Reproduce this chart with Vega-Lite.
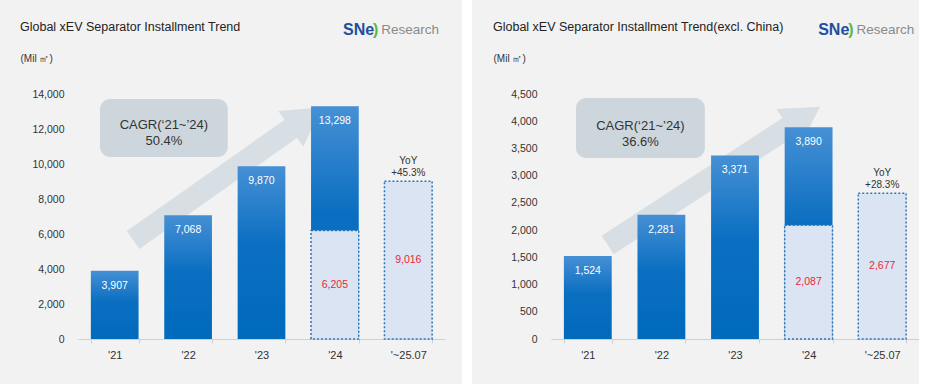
{
  "$schema": "https://vega.github.io/schema/vega-lite/v6.json",
  "background": "#f2f2f2",
  "padding": {"left": 20, "top": 0, "right": 0, "bottom": 0},
  "spacing": 20,
  "datasets": {
    "global": [
      {"cat": "'21", "y": 3907, "kind": "actual"},
      {"cat": "'22", "y": 7068, "kind": "actual"},
      {"cat": "'23", "y": 9870, "kind": "actual"},
      {"cat": "'24", "y": 13298, "kind": "actual"},
      {"cat": "'24", "y": 6205, "kind": "partial"},
      {"cat": "'~25.07", "y": 9016, "kind": "partial", "yoy": "YoY\n+45.3%"}
    ],
    "exchina": [
      {"cat": "'21", "y": 1524, "kind": "actual"},
      {"cat": "'22", "y": 2281, "kind": "actual"},
      {"cat": "'23", "y": 3371, "kind": "actual"},
      {"cat": "'24", "y": 3890, "kind": "actual"},
      {"cat": "'24", "y": 2087, "kind": "partial"},
      {"cat": "'~25.07", "y": 2677, "kind": "partial", "yoy": "YoY\n+28.3%"}
    ],
    "globalNotes": [
      {"role": "arrow", "x": 0.75, "y": 5657, "x2": 3.11, "y2": 12629},
      {"role": "box", "x": 0.30, "y": 13714, "x2": 2.04, "y2": 10400},
      {"role": "cagr", "x": 1.17, "y": 12229, "label": "CAGR(‘21~’24)\n50.4%"},
      {"role": "sn", "x": 3.61, "y": 17657, "label": "SNe"},
      {"role": "arc", "x": 4.02, "y": 17657, "label": ")"},
      {"role": "research", "x": 4.13, "y": 17657, "label": "Research"},
      {"role": "frame", "x": 5.232, "x2": 5.368, "y": -2571.4, "y2": 19371.4}
    ],
    "exchinaNotes": [
      {"role": "arrow", "x": 0.77, "y": 1727, "x2": 3.44, "y2": 4078},
      {"role": "box", "x": 0.34, "y": 4427, "x2": 2.09, "y2": 3324},
      {"role": "cagr", "x": 1.215, "y": 3912, "label": "CAGR(‘21~’24)\n36.6%"},
      {"role": "sn", "x": 3.63, "y": 5676, "label": "SNe"},
      {"role": "arc", "x": 4.04, "y": 5676, "label": ")"},
      {"role": "research", "x": 4.15, "y": 5676, "label": "Research"},
      {"role": "frame", "x": 0, "x2": 0.01, "y": -826.5, "y2": 6226.5}
    ]
  },
  "hconcat": [
    {
      "width": 367,
      "height": 245,
      "title": {"text": "Global xEV Separator Installment Trend"},
      "layer": [
        {
          "data": {"name": "globalNotes"},
          "encoding": {
            "x": {"field": "x", "type": "quantitative", "scale": {"domain": [0, 5], "nice": false, "zero": false}, "axis": null},
            "y": {"field": "y", "type": "quantitative", "scale": {"domain": [0, 14000], "nice": false}, "axis": null}
          },
          "layer": [
            {"transform": [{"filter": "datum.role === 'frame'"}], "mark": {"type": "rect", "color": "#ffffff"}, "encoding": {"x2": {"field": "x2"}, "y2": {"field": "y2"}}},
            {"transform": [{"filter": "datum.role === 'arrow'"}], "mark": {"type": "rule", "strokeWidth": 22, "color": "#d8dfe4", "strokeCap": "butt"}, "encoding": {"x2": {"field": "x2"}, "y2": {"field": "y2"}}},
            {"transform": [{"filter": "datum.role === 'arrow'"}], "mark": {"type": "point", "shape": "triangle-up", "filled": true, "size": 1900, "angle": 55, "color": "#d8dfe4", "opacity": 1}, "encoding": {"x": {"field": "x2", "type": "quantitative"}, "y": {"field": "y2", "type": "quantitative"}}},
            {"transform": [{"filter": "datum.role === 'box'"}], "mark": {"type": "rect", "cornerRadius": 10, "color": "#cdd6dc"}, "encoding": {"x2": {"field": "x2"}, "y2": {"field": "y2"}}},
            {"transform": [{"filter": "datum.role === 'cagr'"}], "mark": {"type": "text", "lineBreak": "\n", "fontSize": 13, "color": "#333333", "lineHeight": 16, "align": "center", "baseline": "middle"}, "encoding": {"text": {"field": "label"}}},
            {"transform": [{"filter": "datum.role === 'sn'"}], "mark": {"type": "text", "fontSize": 16, "fontWeight": "bold", "color": "#1f4e9e", "align": "left", "baseline": "middle"}, "encoding": {"text": {"field": "label"}}},
            {"transform": [{"filter": "datum.role === 'arc'"}], "mark": {"type": "text", "fontSize": 16, "fontWeight": "bold", "color": "#58b947", "align": "left", "baseline": "middle"}, "encoding": {"text": {"field": "label"}}},
            {"transform": [{"filter": "datum.role === 'research'"}], "mark": {"type": "text", "fontSize": 13.5, "color": "#8a8a8a", "align": "left", "baseline": "middle"}, "encoding": {"text": {"field": "label"}}}
          ]
        },
        {
          "data": {"name": "global"},
          "encoding": {
            "x": {"field": "cat", "type": "nominal", "sort": null, "scale": {"domain": ["'21", "'22", "'23", "'24", "'~25.07"], "paddingInner": 0.35, "paddingOuter": 0.175}, "axis": {"orient": "bottom", "title": null, "labelAngle": 0, "labelFontSize": 11, "labelColor": "#333333", "labelPadding": 6, "domainColor": "#d0d0d0", "tickColor": "#d0d0d0", "tickSize": 4, "tickBand": "extent", "grid": false}},
            "y": {"field": "y", "type": "quantitative", "title": "(Mil ㎡)", "scale": {"domain": [0, 14000], "nice": false}, "axis": {"orient": "left", "values": [0, 2000, 4000, 6000, 8000, 10000, 12000, 14000]}}
          },
          "layer": [
            {"transform": [{"filter": "datum.kind === 'actual'"}], "mark": {"type": "bar", "color": {"gradient": "linear", "x1": 0, "y1": 0, "x2": 0, "y2": 1, "stops": [{"offset": 0, "color": "#4690d5"}, {"offset": 0.45, "color": "#0b6fc1"}, {"offset": 1, "color": "#006abd"}]}}},
            {"transform": [{"filter": "datum.kind === 'partial'"}], "mark": {"type": "bar", "fill": "#dbe4f3", "stroke": "#2e75b6", "strokeWidth": 1.5, "strokeDash": [2, 2]}},
            {"transform": [{"filter": "datum.kind === 'actual'"}], "mark": {"type": "text", "color": "#ffffff", "fontSize": 10.5, "baseline": "top", "dy": 10}, "encoding": {"text": {"field": "y", "format": ","}}},
            {"transform": [{"filter": "isValid(datum.yoy)"}], "mark": {"type": "text", "color": "#333333", "fontSize": 10, "baseline": "bottom", "dy": -15, "lineBreak": "\n", "lineHeight": 12}, "encoding": {"text": {"field": "yoy"}}}
          ]
        },
        {
          "data": {"name": "global"},
          "transform": [{"filter": "datum.kind === 'partial'"}],
          "mark": {"type": "text", "color": "#e8283a", "fontSize": 10.5, "baseline": "middle"},
          "encoding": {
            "x": {"field": "cat", "type": "nominal", "sort": null, "scale": {"domain": ["'21", "'22", "'23", "'24", "'~25.07"], "paddingInner": 0.35, "paddingOuter": 0.175}, "axis": null},
            "y": {"field": "y", "type": "quantitative", "scale": {"domain": [0, 28000], "nice": false}, "axis": null},
            "text": {"field": "y", "format": ","}
          }
        }
      ],
      "resolve": {"scale": {"x": "independent", "y": "independent"}, "axis": {"x": "independent", "y": "independent"}}
    },
    {
      "width": 368,
      "height": 245,
      "title": {"text": "Global xEV Separator Installment Trend(excl. China)"},
      "layer": [
        {
          "data": {"name": "exchinaNotes"},
          "encoding": {
            "x": {"field": "x", "type": "quantitative", "scale": {"domain": [0, 5], "nice": false, "zero": false}, "axis": null},
            "y": {"field": "y", "type": "quantitative", "scale": {"domain": [0, 4500], "nice": false}, "axis": null}
          },
          "layer": [
            {"transform": [{"filter": "datum.role === 'frame'"}], "mark": {"type": "rect", "color": "#f2f2f2", "opacity": 0}, "encoding": {"x2": {"field": "x2"}, "y2": {"field": "y2"}}},
            {"transform": [{"filter": "datum.role === 'arrow'"}], "mark": {"type": "rule", "strokeWidth": 22, "color": "#d8dfe4", "strokeCap": "butt"}, "encoding": {"x2": {"field": "x2"}, "y2": {"field": "y2"}}},
            {"transform": [{"filter": "datum.role === 'arrow'"}], "mark": {"type": "point", "shape": "triangle-up", "filled": true, "size": 1900, "angle": 57, "color": "#d8dfe4", "opacity": 1}, "encoding": {"x": {"field": "x2", "type": "quantitative"}, "y": {"field": "y2", "type": "quantitative"}}},
            {"transform": [{"filter": "datum.role === 'box'"}], "mark": {"type": "rect", "cornerRadius": 10, "color": "#cdd6dc"}, "encoding": {"x2": {"field": "x2"}, "y2": {"field": "y2"}}},
            {"transform": [{"filter": "datum.role === 'cagr'"}], "mark": {"type": "text", "lineBreak": "\n", "fontSize": 13, "color": "#333333", "lineHeight": 16, "align": "center", "baseline": "middle"}, "encoding": {"text": {"field": "label"}}},
            {"transform": [{"filter": "datum.role === 'sn'"}], "mark": {"type": "text", "fontSize": 16, "fontWeight": "bold", "color": "#1f4e9e", "align": "left", "baseline": "middle"}, "encoding": {"text": {"field": "label"}}},
            {"transform": [{"filter": "datum.role === 'arc'"}], "mark": {"type": "text", "fontSize": 16, "fontWeight": "bold", "color": "#58b947", "align": "left", "baseline": "middle"}, "encoding": {"text": {"field": "label"}}},
            {"transform": [{"filter": "datum.role === 'research'"}], "mark": {"type": "text", "fontSize": 13.5, "color": "#8a8a8a", "align": "left", "baseline": "middle"}, "encoding": {"text": {"field": "label"}}}
          ]
        },
        {
          "data": {"name": "exchina"},
          "encoding": {
            "x": {"field": "cat", "type": "nominal", "sort": null, "scale": {"domain": ["'21", "'22", "'23", "'24", "'~25.07"], "paddingInner": 0.35, "paddingOuter": 0.175}, "axis": {"orient": "bottom", "title": null, "labelAngle": 0, "labelFontSize": 11, "labelColor": "#333333", "labelPadding": 6, "domainColor": "#d0d0d0", "tickColor": "#d0d0d0", "tickSize": 4, "tickBand": "extent", "grid": false}},
            "y": {"field": "y", "type": "quantitative", "title": "(Mil ㎡)", "scale": {"domain": [0, 4500], "nice": false}, "axis": {"orient": "left", "values": [0, 500, 1000, 1500, 2000, 2500, 3000, 3500, 4000, 4500]}}
          },
          "layer": [
            {"transform": [{"filter": "datum.kind === 'actual'"}], "mark": {"type": "bar", "color": {"gradient": "linear", "x1": 0, "y1": 0, "x2": 0, "y2": 1, "stops": [{"offset": 0, "color": "#4690d5"}, {"offset": 0.45, "color": "#0b6fc1"}, {"offset": 1, "color": "#006abd"}]}}},
            {"transform": [{"filter": "datum.kind === 'partial'"}], "mark": {"type": "bar", "fill": "#dbe4f3", "stroke": "#2e75b6", "strokeWidth": 1.5, "strokeDash": [2, 2]}},
            {"transform": [{"filter": "datum.kind === 'actual'"}], "mark": {"type": "text", "color": "#ffffff", "fontSize": 10.5, "baseline": "top", "dy": 10}, "encoding": {"text": {"field": "y", "format": ","}}},
            {"transform": [{"filter": "isValid(datum.yoy)"}], "mark": {"type": "text", "color": "#333333", "fontSize": 10, "baseline": "bottom", "dy": -15, "lineBreak": "\n", "lineHeight": 12}, "encoding": {"text": {"field": "yoy"}}}
          ]
        },
        {
          "data": {"name": "exchina"},
          "transform": [{"filter": "datum.kind === 'partial'"}],
          "mark": {"type": "text", "color": "#e8283a", "fontSize": 10.5, "baseline": "middle"},
          "encoding": {
            "x": {"field": "cat", "type": "nominal", "sort": null, "scale": {"domain": ["'21", "'22", "'23", "'24", "'~25.07"], "paddingInner": 0.35, "paddingOuter": 0.175}, "axis": null},
            "y": {"field": "y", "type": "quantitative", "scale": {"domain": [0, 9000], "nice": false}, "axis": null},
            "text": {"field": "y", "format": ","}
          }
        }
      ],
      "resolve": {"scale": {"x": "independent", "y": "independent"}, "axis": {"x": "independent", "y": "independent"}}
    }
  ],
  "config": {
    "font": "Liberation Sans",
    "view": {"stroke": null},
    "axisY": {"domain": false, "ticks": false, "labelPadding": 14, "labelFontSize": 10.5, "labelColor": "#333333", "gridColor": "#d9d9d9", "titleAngle": 0, "titleX": -58, "titleY": -36, "titleAlign": "left", "titleBaseline": "middle", "titleFontSize": 10, "titleFontWeight": "normal", "titleColor": "#333333"},
    "title": {"anchor": "start", "frame": "bounds", "fontSize": 12.5, "fontWeight": "normal", "color": "#222222", "offset": -33}
  }
}
